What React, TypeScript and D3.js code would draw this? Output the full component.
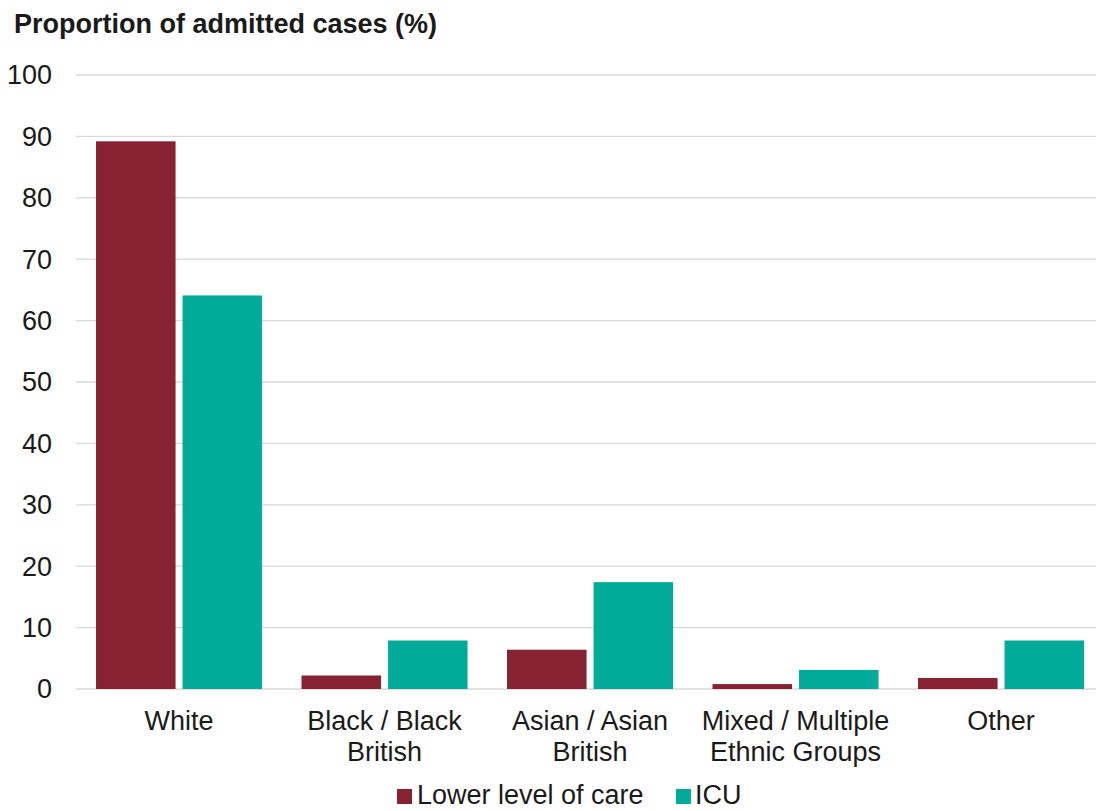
import React, { useEffect } from 'react';
import * as d3 from 'd3';

const categories = ['White', 'Black / Black British', 'Asian / Asian British', 'Mixed / Multiple Ethnic Groups', 'Other'];
const categoryLines = [['White'], ['Black / Black', 'British'], ['Asian / Asian', 'British'], ['Mixed / Multiple', 'Ethnic Groups'], ['Other']];
const seriesNames = ['Lower level of care', 'ICU'];
const lowerCare = [89.2, 2.2, 6.4, 0.8, 1.8];
const icu = [64.1, 7.9, 17.4, 3.1, 7.9];
const yTicks = [0, 10, 20, 30, 40, 50, 60, 70, 80, 90, 100];

const colors = ['#862232', '#00ab9a'];
const font = '"Liberation Sans", Arial, sans-serif';
const fs = 27;

export default function App() {
  useEffect(() => {
    document.body.style.margin = '0';
  }, []);

  const width = 1096;
  const height = 811;

  // category bands; grouped bars inside each band
  const x0 = d3.scaleBand<string>()
    .domain(categories)
    .range([76.3, 1103.8])
    .paddingInner(0.192)
    .paddingOuter(0.096);

  const x1 = d3.scaleBand<string>()
    .domain(seriesNames)
    .range([0, x0.bandwidth()])
    .paddingInner(0.081);

  const y = d3.scaleLinear()
    .domain([0, 100])
    .range([689, 75]);

  const values = [lowerCare, icu];

  return (
    <svg width={width} height={height} style={{ display: 'block', fontFamily: font }}>
      <rect width={width} height={height} fill="#fff" />
      <text x={14} y={33} fontSize={fs} fontWeight="bold" fill="#1a1a1a">Proportion of admitted cases (%)</text>

      {yTicks.map(t => (
        <g key={t}>
          <line x1={76} x2={width} y1={y(t)} y2={y(t)} stroke="#d9d9d9" strokeWidth={1.3} />
          <text x={52} y={y(t)} dy="0.35em" textAnchor="end" fontSize={fs} fill="#1a1a1a">{t}</text>
        </g>
      ))}

      {categories.map((c, i) => (
        <g key={c} transform={`translate(${x0(c)},0)`}>
          {seriesNames.map((s, j) => (
            <rect
              key={s}
              x={x1(s)}
              y={y(values[j][i])}
              width={x1.bandwidth()}
              height={y(0) - y(values[j][i])}
              fill={colors[j]}
            />
          ))}
          {categoryLines[i].map((line, k) => (
            <text key={k} x={x0.bandwidth() / 2} y={730 + k * 31} textAnchor="middle" fontSize={fs} fill="#1a1a1a">{line}</text>
          ))}
        </g>
      ))}

      <g transform="translate(397,804)">
        <rect x={0} y={-15} width={15} height={15} fill={colors[0]} />
        <text x={20} y={0} fontSize={fs} fill="#1a1a1a">{seriesNames[0]}</text>
        <rect x={279} y={-15} width={15} height={15} fill={colors[1]} />
        <text x={298} y={0} fontSize={fs} fill="#1a1a1a">{seriesNames[1]}</text>
      </g>
    </svg>
  );
}
